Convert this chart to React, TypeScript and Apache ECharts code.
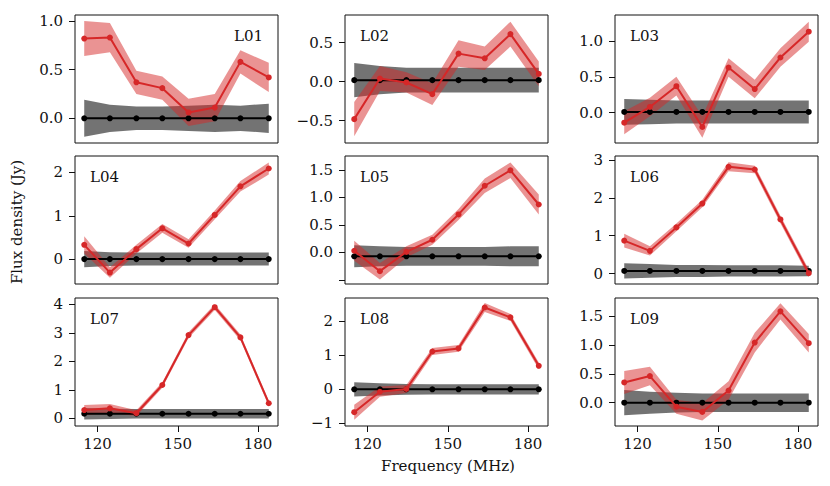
import React, { useEffect, useRef } from "react";
import * as echarts from "echarts";

// Frequencies (MHz) of the 8 sub-bands
const freqs = [115.0, 124.6, 134.5, 144.2, 154.0, 163.8, 173.4, 184.0];

const panelNames = ["L01", "L02", "L03", "L04", "L05", "L06", "L07", "L08", "L09"];

// Red: source flux density and its uncertainty (half-width of the band)
const redMeans = [
  [0.82, 0.83, 0.37, 0.31, 0.06, 0.11, 0.58, 0.42],
  [-0.48, 0.04, -0.01, -0.16, 0.36, 0.3, 0.61, 0.1],
  [-0.14, 0.08, 0.37, -0.2, 0.63, 0.33, 0.77, 1.13],
  [0.33, -0.31, 0.23, 0.71, 0.36, 1.02, 1.68, 2.09],
  [0.03, -0.34, 0.01, 0.23, 0.69, 1.21, 1.49, 0.87],
  [0.87, 0.6, 1.22, 1.85, 2.82, 2.75, 1.43, 0.01],
  [0.29, 0.35, 0.18, 1.17, 2.92, 3.9, 2.84, 0.53],
  [-0.67, -0.07, 0.01, 1.11, 1.2, 2.4, 2.11, 0.69],
  [0.35, 0.46, -0.07, -0.16, 0.21, 1.04, 1.58, 1.03],
];
const redErrs = [
  [0.18, 0.15, 0.12, 0.12, 0.14, 0.14, 0.12, 0.15],
  [0.22, 0.16, 0.13, 0.14, 0.17, 0.15, 0.16, 0.16],
  [0.16, 0.13, 0.13, 0.15, 0.13, 0.13, 0.13, 0.14],
  [0.2, 0.12, 0.1, 0.1, 0.1, 0.1, 0.12, 0.14],
  [0.18, 0.15, 0.1, 0.09, 0.1, 0.13, 0.14, 0.18],
  [0.18, 0.12, 0.1, 0.1, 0.12, 0.1, 0.1, 0.1],
  [0.18, 0.15, 0.1, 0.1, 0.1, 0.1, 0.1, 0.1],
  [0.22, 0.15, 0.12, 0.1, 0.1, 0.13, 0.1, 0.1],
  [0.2, 0.16, 0.12, 0.15, 0.16, 0.17, 0.14, 0.16],
];

// Black: off-source reference and its uncertainty
const blackMeans = [
  [0, 0, 0, 0, 0, 0, 0, 0],
  [0.02, 0.02, 0.02, 0.02, 0.02, 0.02, 0.02, 0.02],
  [0.01, 0.01, 0.01, 0.01, 0.01, 0.01, 0.01, 0.01],
  [0, 0, 0, 0, 0, 0, 0, 0],
  [-0.07, -0.07, -0.07, -0.07, -0.07, -0.07, -0.07, -0.07],
  [0.07, 0.07, 0.07, 0.07, 0.07, 0.07, 0.07, 0.07],
  [0.16, 0.16, 0.16, 0.16, 0.16, 0.16, 0.16, 0.16],
  [0, 0, 0, 0, 0, 0, 0, 0],
  [0, 0, 0, 0, 0, 0, 0, 0],
];
const blackErrs = [
  [0.19, 0.14, 0.12, 0.12, 0.13, 0.14, 0.13, 0.15],
  [0.22, 0.18, 0.16, 0.16, 0.16, 0.16, 0.16, 0.16],
  [0.18, 0.17, 0.16, 0.16, 0.16, 0.16, 0.16, 0.16],
  [0.19, 0.16, 0.15, 0.15, 0.15, 0.15, 0.15, 0.15],
  [0.2, 0.18, 0.17, 0.17, 0.17, 0.17, 0.18, 0.18],
  [0.2, 0.18, 0.16, 0.16, 0.15, 0.15, 0.15, 0.14],
  [0.2, 0.18, 0.17, 0.17, 0.17, 0.17, 0.17, 0.17],
  [0.21, 0.18, 0.16, 0.15, 0.15, 0.15, 0.15, 0.15],
  [0.22, 0.19, 0.17, 0.16, 0.16, 0.16, 0.16, 0.16],
];

// Axis limits and ticks
const xMin = 111.55;
const xMax = 187.45;
const xTicks = [120, 150, 180];
const yMins = [-0.254, -0.786, -0.423, -0.574, -0.573, -0.275, -0.269, -1.075, -0.404];
const yMaxs = [1.062, 0.855, 1.363, 2.379, 1.75, 3.106, 4.222, 2.678, 1.812];
const yTicks = [
  [0, 0.5, 1.0],
  [-0.5, 0, 0.5],
  [0, 0.5, 1.0],
  [0, 1, 2],
  [-0.5, 0, 0.5, 1.0, 1.5],
  [0, 1, 2, 3],
  [0, 1, 2, 3, 4],
  [-1, 0, 1, 2],
  [0, 0.5, 1.0, 1.5],
];
const yLabelTicks = [
  [0, 0.5, 1.0],
  [-0.5, 0, 0.5],
  [0, 0.5, 1.0],
  [0, 1, 2],
  [0, 0.5, 1.0, 1.5],
  [0, 1, 2, 3],
  [0, 1, 2, 3, 4],
  [-1, 0, 1, 2],
  [0, 0.5, 1.0, 1.5],
];

const FONT = "DejaVu Serif";
const FS = 15;
const colLeft = [75, 345, 615];
const rowTop = [15, 156, 298];
const W = 203;
const H = 128;
const RED = "#d62728";

function bandRenderer(fill: string) {
  return (params: any, api: any) => {
    if (params.dataIndex !== 0) return null;
    const n = params.dataInsideLength;
    const upper: number[][] = [];
    const lower: number[][] = [];
    for (let k = 0; k < n; k++) {
      const x = api.value(0, k);
      upper.push(api.coord([x, api.value(2, k)]));
      lower.push(api.coord([x, api.value(1, k)]));
    }
    const pts = upper.concat(lower.reverse());
    return {
      type: "polygon",
      shape: { points: pts },
      style: { fill, stroke: "none" },
      silent: true,
    };
  };
}

export default function App() {
  const ref = useRef<HTMLDivElement>(null);
  useEffect(() => {
    const chart = echarts.init(ref.current!, null, { renderer: "svg" });
    const grids: any[] = [];
    const xAxes: any[] = [];
    const yAxes: any[] = [];
    const series: any[] = [];
    const graphics: any[] = [];
    for (let i = 0; i < 9; i++) {
      const r = Math.floor(i / 3);
      const c = i % 3;
      grids.push({
        left: colLeft[c],
        top: rowTop[r],
        width: W,
        height: H,
        show: true,
        borderColor: "#111",
        borderWidth: 1,
        backgroundColor: "transparent",
      });
      const bottomRow = r === 2;
      xAxes.push({
        gridIndex: i,
        type: "value",
        position: "bottom",
        min: xMin,
        max: xMax,
        axisLine: { show: false, onZero: false },
        splitLine: { show: false },
        axisTick: bottomRow
          ? {
              show: true,
              length: 6,
              lineStyle: { color: "#111", width: 1 },
              customValues: xTicks,
            }
          : { show: false },
        axisLabel: bottomRow
          ? {
              show: true,
              customValues: xTicks,
              margin: 10,
              fontFamily: FONT,
              fontSize: FS,
              color: "#111",
            }
          : { show: false },
      });
      const dec = yLabelTicks[i].some((v) => !Number.isInteger(v)) ? 1 : 0;
      yAxes.push({
        gridIndex: i,
        type: "value",
        position: "left",
        min: yMins[i],
        max: yMaxs[i],
        axisLine: { show: false, onZero: false },
        splitLine: { show: false },
        axisTick: {
          show: true,
          length: 6,
          lineStyle: { color: "#111", width: 1 },
          customValues: yTicks[i],
        },
        axisLabel: {
          customValues: yLabelTicks[i],
          margin: 12,
          fontFamily: FONT,
          fontSize: FS,
          color: "#111",
          formatter: (v: number) => v.toFixed(dec).replace("-", "\u2212"),
        },
      });

      const bBand = freqs.map((f, k) => [
        f,
        blackMeans[i][k] - blackErrs[i][k],
        blackMeans[i][k] + blackErrs[i][k],
      ]);
      const rBand = freqs.map((f, k) => [
        f,
        redMeans[i][k] - redErrs[i][k],
        redMeans[i][k] + redErrs[i][k],
      ]);
      series.push({
        type: "custom",
        xAxisIndex: i,
        yAxisIndex: i,
        silent: true,
        clip: true,
        data: bBand,
        encode: { x: 0, y: [1, 2] },
        renderItem: bandRenderer("rgba(0,0,0,0.55)"),
        z: 1,
      });
      series.push({
        type: "custom",
        xAxisIndex: i,
        yAxisIndex: i,
        silent: true,
        clip: true,
        data: rBand,
        encode: { x: 0, y: [1, 2] },
        renderItem: bandRenderer("rgba(214,39,40,0.5)"),
        z: 2,
      });
      series.push({
        type: "line",
        xAxisIndex: i,
        yAxisIndex: i,
        silent: true,
        data: freqs.map((f, k) => [f, blackMeans[i][k]]),
        symbol: "circle",
        symbolSize: 6,
        showSymbol: true,
        itemStyle: { color: "#000" },
        lineStyle: { color: "#000", width: 2 },
        z: 3,
      });
      series.push({
        type: "line",
        xAxisIndex: i,
        yAxisIndex: i,
        silent: true,
        data: freqs.map((f, k) => [f, redMeans[i][k]]),
        symbol: "circle",
        symbolSize: 6,
        showSymbol: true,
        itemStyle: { color: RED },
        lineStyle: { color: RED, width: 2 },
        z: 4,
      });

      const right = i === 0;
      graphics.push({
        type: "text",
        x: right ? colLeft[c] + W - 15 : colLeft[c] + 15,
        y: rowTop[r] + 21,
        style: {
          text: panelNames[i],
          font: `${FS}px "${FONT}"`,
          fill: "#111",
          align: right ? "right" : "left",
          verticalAlign: "middle",
        },
        z: 100,
      });
    }
    graphics.push({
      type: "text",
      x: 17,
      y: 222,
      rotation: Math.PI / 2,
      style: {
        text: "Flux density (Jy)",
        font: `${FS}px "${FONT}"`,
        fill: "#111",
        align: "center",
        verticalAlign: "middle",
      },
    });
    graphics.push({
      type: "text",
      x: 448,
      y: 466,
      style: {
        text: "Frequency (MHz)",
        font: `${FS}px "${FONT}"`,
        fill: "#111",
        align: "center",
        verticalAlign: "middle",
      },
    });

    chart.setOption({
      animation: false,
      backgroundColor: "#fff",
      grid: grids,
      xAxis: xAxes,
      yAxis: yAxes,
      series,
      graphic: graphics,
    });
    return () => chart.dispose();
  }, []);
  return (
    <div
      ref={ref}
      style={{ position: "fixed", left: 0, top: 0, width: 830, height: 486 }}
    />
  );
}
